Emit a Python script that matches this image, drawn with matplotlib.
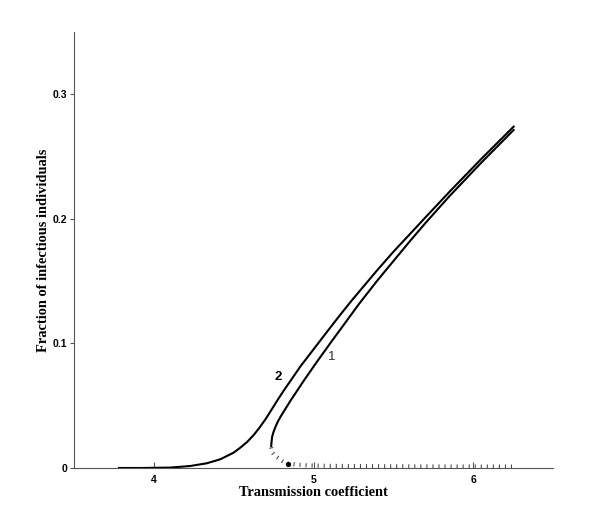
import matplotlib
matplotlib.use("Agg")
import matplotlib.pyplot as plt

# curve 2: smooth onset of infection
beta_2 = [3.776, 3.915, 4.10, 4.229, 4.333, 4.417, 4.50, 4.542, 4.584, 4.626,
          4.66, 4.70, 4.74, 4.78, 4.82, 4.851, 4.918, 5.002, 5.086, 5.169,
          5.243, 5.4, 5.5, 5.7, 5.85, 6.05, 6.257]
infect_2 = [0.0, 0.0, 0.0003, 0.0016, 0.0038, 0.007, 0.0123, 0.0163, 0.0208, 0.0265,
            0.0320, 0.0392, 0.0473, 0.0555, 0.0633, 0.0690, 0.0815, 0.0955, 0.1095, 0.1232,
            0.135, 0.1589, 0.1735, 0.201, 0.2215, 0.248, 0.2745]

# curve 1: stable upper branch after the fold
beta_1 = [4.735, 4.737, 4.741, 4.75, 4.762, 4.776, 4.793, 4.822, 4.856, 4.939,
          5.023, 5.107, 5.19, 5.284, 5.4, 5.5, 5.6, 5.7, 5.85, 6.05, 6.257]
infect_1 = [0.0168, 0.0205, 0.0249, 0.029, 0.033, 0.037, 0.041, 0.047, 0.054, 0.070,
            0.0855, 0.1005, 0.115, 0.1315, 0.1505, 0.166, 0.1815, 0.1965, 0.218, 0.245,
            0.2718]

# curve 1: unstable lower branch
beta_u = [4.735, 4.741, 4.755, 4.772, 4.79, 4.804, 4.822, 4.839, 4.9, 4.96,
          5.1, 5.4, 5.8, 6.245]
infect_u = [0.0165, 0.0127, 0.0105, 0.0087, 0.007, 0.0057, 0.0045, 0.0036, 0.0027,
            0.0021, 0.0017, 0.0014, 0.0012, 0.0011]

fold_point = (4.839, 0.0036)

x_ticks = [4, 5, 6]
y_ticks = [0, 0.1, 0.2, 0.3]
y_ticklabels = ["0", "0.1", "0.2", "0.3"]

fig = plt.figure(figsize=(6.0, 5.3), dpi=100)
ax = fig.add_axes([0.123, 0.117, 0.799, 0.823])

ax.plot(beta_2, infect_2, color="black", lw=1.5, solid_capstyle="butt")
ax.plot(beta_1, infect_1, color="black", lw=1.5, solid_capstyle="butt")
ax.plot(beta_u, infect_u, color="#444444", lw=3.0, linestyle=(0, (0.25, 1.2)),
        dash_capstyle="butt")
ax.plot(*fold_point, marker="o", color="black", markersize=2.8)

ax.text(5.117, 0.0894, "1", fontsize=9.5, color="#333333", ha="center", va="center",
        family="Liberation Sans")
ax.text(4.776, 0.0727, "2", fontsize=9.5, fontweight="bold", ha="center", va="center",
        family="Liberation Sans")

ax.set_xlim(3.5, 6.5)
ax.set_ylim(0, 0.35)
ax.set_xticks(x_ticks)
ax.set_xticklabels([str(t) for t in x_ticks])
ax.set_yticks(y_ticks)
ax.set_yticklabels(y_ticklabels)

for side in ("top", "right"):
    ax.spines[side].set_visible(False)
for side in ("left", "bottom"):
    ax.spines[side].set_linewidth(0.8)
    ax.spines[side].set_color("#555555")

ax.tick_params(axis="x", direction="in", length=4, width=0.8, color="#555555", pad=5)
ax.tick_params(axis="y", direction="out", length=3, width=0.8, color="#555555", pad=1.5)
for lbl in ax.get_xticklabels() + ax.get_yticklabels():
    lbl.set_fontfamily("Liberation Sans")
    lbl.set_fontweight("bold")
    lbl.set_fontsize(7.5)

ax.set_xlabel("Transmission coefficient", family="Liberation Serif", fontweight="bold",
              fontsize=10.4, labelpad=1)
ax.set_ylabel("Fraction of infectious individuals", family="Liberation Serif",
              fontweight="bold", fontsize=10.4, labelpad=2)

fig.savefig("out.png", dpi=100)
